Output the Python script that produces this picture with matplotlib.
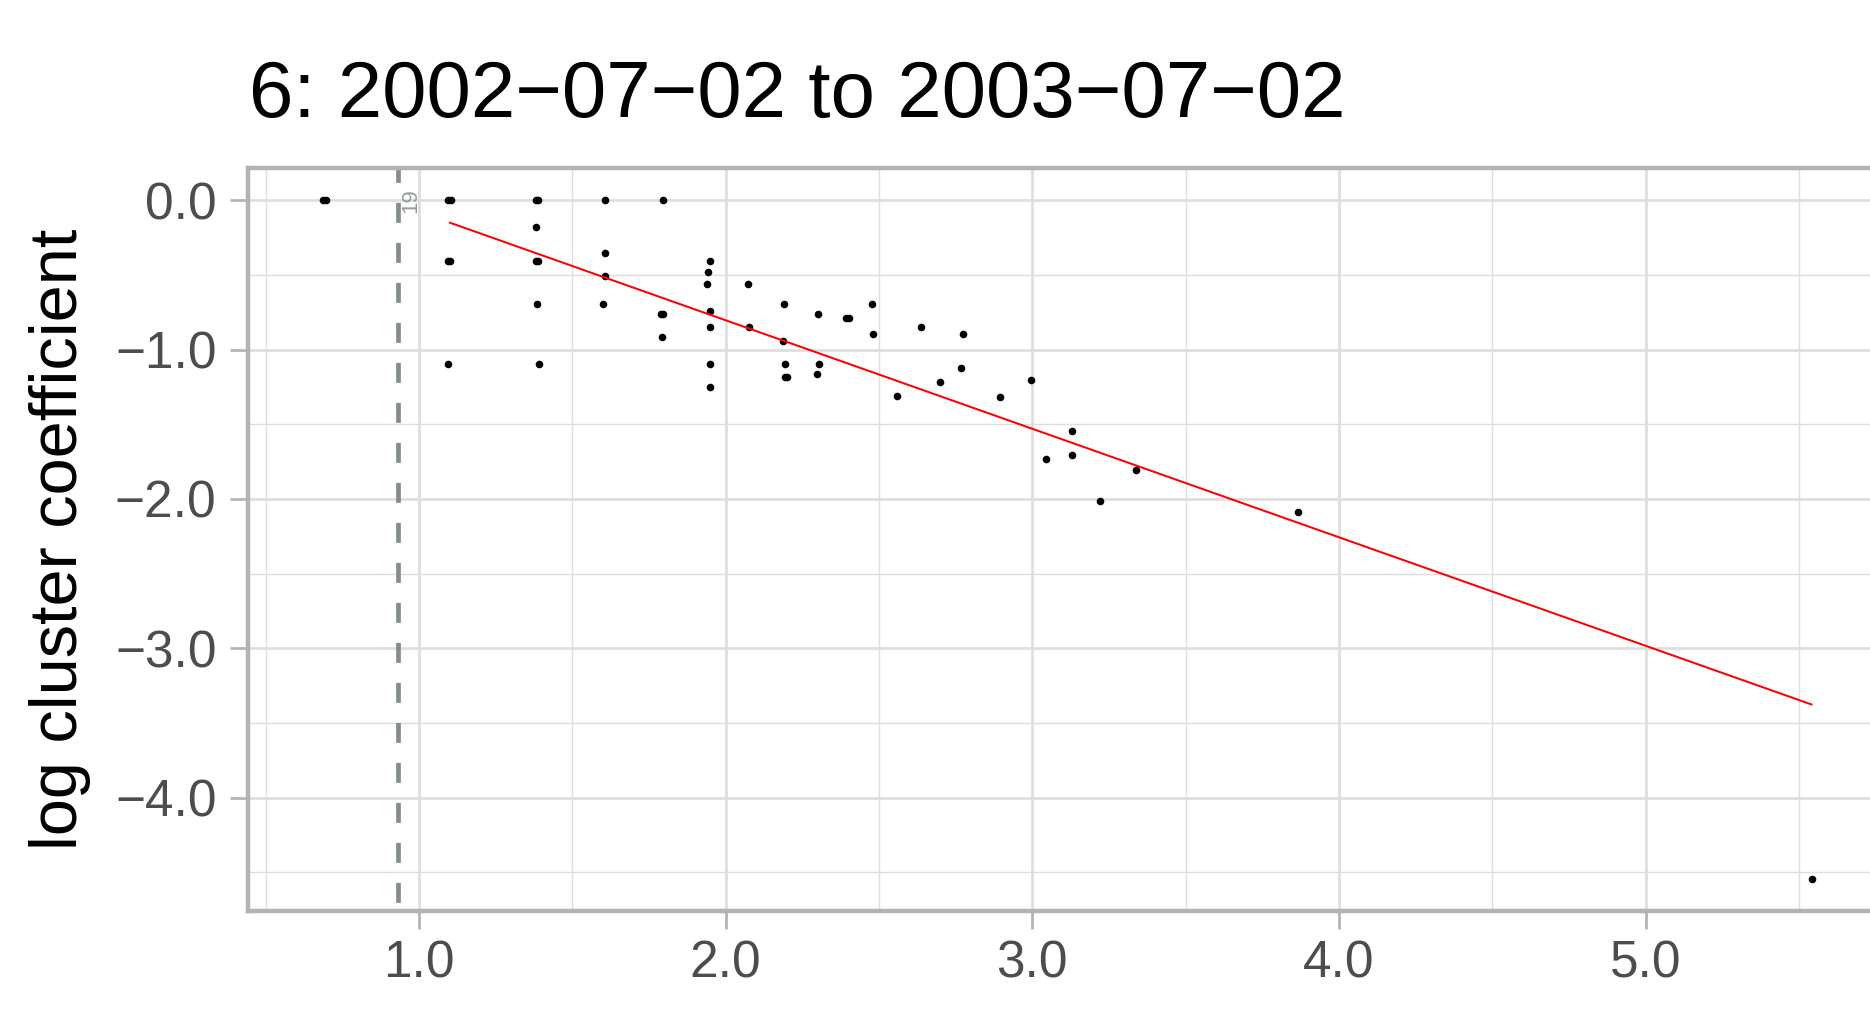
import matplotlib
matplotlib.use("Agg")
import matplotlib.pyplot as plt
import numpy as np

plt.rcParams['font.family'] = ['Liberation Sans', 'DejaVu Sans']
plt.rcParams['lines.scale_dashes'] = False

# ---- data ----
title = "6: 2002\u221207\u221202 to 2003\u221207\u221202"
ylabel = "log cluster coefficient"

log_degree = [0.686, 0.698,
              1.093, 1.103, 1.093, 1.101, 1.095,
              1.380, 1.388, 1.383, 1.380, 1.388, 1.384, 1.390,
              1.608, 1.608, 1.608, 1.601,
              1.795, 1.789, 1.797, 1.793,
              1.950, 1.941, 1.940, 1.949, 1.949, 1.950, 1.950,
              2.073, 2.076,
              2.191, 2.188, 2.194, 2.192, 2.200,
              2.302, 2.304, 2.298,
              2.393, 2.401,
              2.477, 2.480,
              2.559, 2.638, 2.700, 2.768, 2.774, 2.895, 2.995,
              3.044, 3.130, 3.130, 3.221, 3.338, 3.865, 5.543]
log_cluster = [0.0, 0.0,
               0.0, 0.0, -0.405, -0.405, -1.096,
               0.0, 0.0, -0.181, -0.405, -0.405, -0.692, -1.096,
               0.0, -0.355, -0.509, -0.692,
               0.0, -0.761, -0.761, -0.916,
               -0.404, -0.480, -0.558, -0.741, -0.846, -1.096, -1.253,
               -0.558, -0.846,
               -0.692, -0.944, -1.096, -1.186, -1.186,
               -0.761, -1.096, -1.165,
               -0.786, -0.786,
               -0.692, -0.893,
               -1.311, -0.846, -1.219, -1.123, -0.893, -1.315, -1.204,
               -1.735, -1.543, -1.704, -2.014, -1.806, -2.086, -4.544]

fit_x = [1.098, 5.544]
fit_y = [-0.148, -3.379]

cutoff_x = 0.9325
cutoff_label = "19"
cutoff_label_x = 0.9723
cutoff_label_y = 0.0

x_major = [1, 2, 3, 4, 5]
x_major_labels = ["1.0", "2.0", "3.0", "4.0", "5.0"]
x_minor = [0.5, 1.5, 2.5, 3.5, 4.5, 5.5]
y_major = [0, -1, -2, -3, -4]
y_major_labels = ["0.0", "\u22121.0", "\u22122.0", "\u22123.0", "\u22124.0"]
y_minor = [-0.5, -1.5, -2.5, -3.5, -4.5]

# ---- figure ----
W, H, DPI = 1870, 1009, 100
fig = plt.figure(figsize=(W / DPI, H / DPI), dpi=DPI)

xlim = (0.4424, 5.79)
ylim = (-4.758, 0.2143)
px_per_x = 306.65
left_px, top_px, bottom_px = 248.0, 168.3, 910.7
width_px = (xlim[1] - xlim[0]) * px_per_x
ax = fig.add_axes([left_px / W, 1 - bottom_px / H, width_px / W, (bottom_px - top_px) / H])
ax.set_xlim(*xlim)
ax.set_ylim(*ylim)

grid_col = "#DEDEDE"
border_col = "#B3B3B3"

ax.set_xticks(x_major)
ax.set_xticklabels(x_major_labels)
ax.set_xticks(x_minor, minor=True)
ax.set_yticks(y_major)
ax.set_yticklabels(y_major_labels)
ax.set_yticks(y_minor, minor=True)

ax.set_axisbelow(True)
ax.grid(which='major', color=grid_col, linewidth=1.95)
ax.grid(which='minor', color=grid_col, linewidth=1.0)

for s in ax.spines.values():
    s.set_color(border_col)
    s.set_linewidth(3.2)
    s.set_zorder(5)

ax.tick_params(which='major', length=12.7, width=1.95, color=border_col,
               labelsize=37, labelcolor="#4D4D4D", pad=10)
ax.tick_params(axis='x', which='major', pad=8)
ax.tick_params(which='minor', length=0)

# dashed cutoff line
ax.axvline(cutoff_x, color="#848C8C", linewidth=3.4,
           linestyle=(22.6, (14.4, 14.4)), zorder=2)
ax.text(cutoff_label_x, cutoff_label_y, cutoff_label, rotation=90,
        ha='center', va='center', fontsize=16, color="#969C9C", zorder=3)

# points and fit
ax.scatter(log_degree, log_cluster, s=30, c="black", linewidths=0, zorder=3)
ax.plot(fit_x, fit_y, color="#FF0000", linewidth=1.45, zorder=4,
        solid_capstyle='butt')

# texts
fig.text(248.7 / W, 1 - 117 / H, title, ha='left', va='baseline',
         fontsize=57.5, color="black")
fig.text(60 / W, 1 - 539 / H, ylabel, rotation=90, ha='center', va='center',
         fontsize=48, color="black")

fig.savefig("out.png", dpi=DPI)
